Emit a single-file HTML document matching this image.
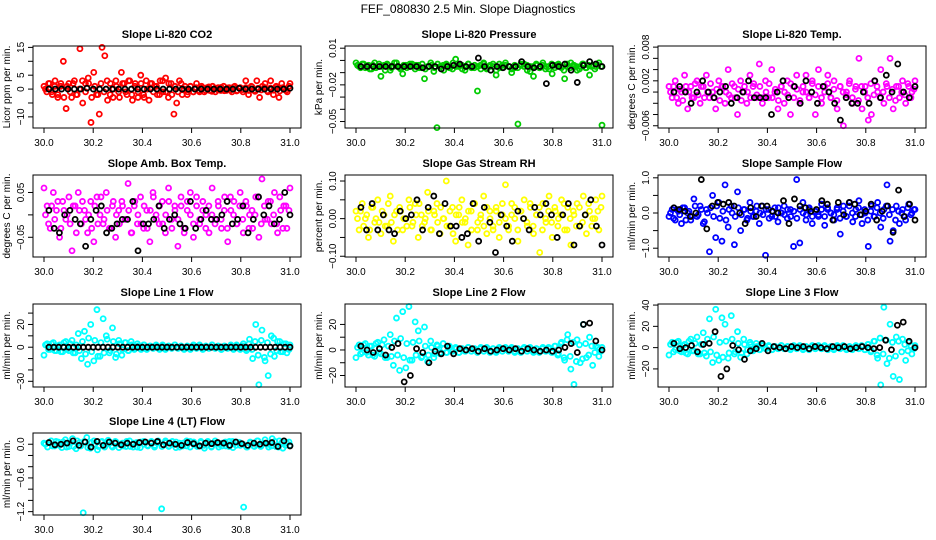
<!DOCTYPE html>
<html><head><meta charset="utf-8"><style>
html,body{margin:0;padding:0;background:#fff}
svg{display:block}
text{font-family:"Liberation Sans",Arial,sans-serif}
</style></head><body>
<svg id="chart" width="936" height="540" viewBox="0 0 936 540">
<text x="468" y="13" text-anchor="middle" font-size="12">FEF_080830  2.5 Min. Slope Diagnostics</text>
</svg>
<script>
const xTicks=[30.0,30.2,30.4,30.6,30.8,31.0];
const xTickLabels=["30.0","30.2","30.4","30.6","30.8","31.0"];

const co2Vals=[1,-1,2,-2,3,-3,1,10,-7,2,-3,3,-2,14.5,-5,2,4,-12,6,-2,-9,15,12,-4,2,-3,3,-1,6,2,-2,3,-4,2,-3,5,-2,3,-4,2,1,-2,3,-1,4,-3,2,-9,-5,3,-2,1,-1,1,-1,0.5,-0.5,1,-1,0.5,-0.5,1,-1,0.5,-0.5,1,-0.5,0.5,-1,1,-0.5,0.5,-1,3,-2,1,-0.5,3,-3,1,2,-1,3,-2,1,-3,2,0,-1,2];
const co2Vals2=[0,2,-1,1,-2,2,-3,1,-1,2,-2,0,3,-1,2,-3,1,-2,2,-1,3,-2,0,1,-3,2,-1,3,-2,1,-1,2,-3,0,2,-1,1,-2,3,-1,2,-2,1,-1,2,0,-2,1,-1,2,-1,0.5,-0.5,0.8,-0.8,0.3,-0.3,0.6,-0.6,0.4,-0.4,0.7,-0.7,0.2,-0.2,0.5,-0.5,0.8,-0.8,0.3,-0.3,0.6,-0.6,0.4,-0.4,0.7,-0.7,0.5,-0.5,1];
const co2Ref=[0,0,0,0,0,0,0.3,0,0,0,0,0,0,0,0,0,0,0,0,0,0,0,0,0,0,0,0,0,0,0,0.3,0,0,0,0,0,0,0,0.3];

const presVals=[-0.002,-0.005,-0.003,-0.006,-0.004,-0.007,-0.002,-0.005,-0.013,-0.004,-0.003,-0.008,-0.005,-0.002,-0.006,-0.011,-0.004,-0.005,-0.003,-0.007,-0.004,-0.006,-0.015,-0.005,-0.002,-0.009,-0.055,-0.005,-0.004,-0.003,-0.006,-0.007,0.001,-0.005,-0.004,-0.008,-0.003,-0.005,-0.006,-0.025,-0.004,-0.002,-0.007,-0.005,-0.003,-0.012,-0.006,-0.004,-0.002,-0.005,-0.01,-0.006,-0.052,-0.004,-0.003,-0.008,-0.005,-0.013,-0.004,-0.006,-0.002,-0.005,-0.007,-0.011,-0.004,-0.003,-0.006,-0.015,-0.005,-0.002,-0.004,-0.008,-0.005,-0.003,-0.006,-0.012,-0.004,-0.005,-0.002,-0.053];
const presVals2=[-0.004,-0.006,-0.003,-0.005,-0.007,-0.004,-0.006,-0.003,-0.005,-0.008,-0.004,-0.006,-0.002,-0.005,-0.007,-0.004,-0.006,-0.003,-0.005,-0.004,-0.006,-0.003,-0.007,-0.005,-0.004,-0.006,-0.003,-0.005,-0.008,-0.004,-0.006,-0.002,-0.005,-0.004,-0.007,-0.005,-0.003,-0.006,-0.004,-0.005,-0.007,-0.003,-0.006,-0.004,-0.005,-0.008,-0.003,-0.006,-0.004,-0.005,-0.007,-0.004,-0.006,-0.003,-0.005,-0.004,-0.009,-0.005,-0.003,-0.006,-0.004,-0.007,-0.005,-0.003,-0.006,-0.004,-0.005,-0.008,-0.003,-0.006,-0.004,-0.005,-0.007,-0.003,-0.006,-0.004,-0.005,-0.007,-0.004,-0.005];
const presRef=[-0.005,-0.005,-0.005,-0.005,-0.005,-0.005,-0.005,-0.005,-0.005,-0.005,-0.006,-0.005,-0.005,-0.007,-0.005,-0.004,-0.003,-0.005,-0.005,0.002,-0.005,-0.008,-0.005,-0.006,-0.005,-0.005,-0.001,-0.005,-0.006,-0.005,-0.019,-0.004,-0.005,-0.003,-0.008,-0.018,-0.004,-0.001,-0.003,-0.005];

const tempVals=[0.001,-0.001,0.002,-0.002,0,0.003,-0.003,0.001,-0.001,0.002,-0.002,0.001,0.003,-0.001,0,-0.003,0.002,0.001,-0.002,0.004,-0.001,0.001,-0.004,0.002,0,-0.002,0.003,0.001,-0.001,0.005,-0.002,0.002,-0.001,0.004,0,-0.003,0.001,-0.002,0.002,-0.004,0.001,0.003,-0.002,0,0.003,-0.001,0.002,-0.004,0.004,-0.002,0.001,0.003,-0.001,0.002,-0.003,0.001,-0.006,0,0.002,-0.002,0.001,0.006,-0.003,0.001,-0.005,-0.004,0.002,0,0.004,-0.002,0.001,0.006,-0.003,0.001,-0.001,0.002,-0.002,0.001,0,0.002];
const tempVals2=[0,0.001,-0.001,0.0005,-0.0015,0.001,0,-0.001,0.0015,-0.0005,0.001,-0.001,0,0.0015,-0.001,0.0005,-0.0015,0.001,0,-0.0005,0.0015,-0.001,0.0005,-0.0015,0.001,0,-0.001,0.0015,-0.0005,0.001,-0.001,0,0.0015,-0.001,0.0005,-0.0015,0.001,0,-0.0005,0.0015,-0.001,0.0005,-0.0015,0.001,0,-0.001,0.0015,-0.0005,0.001,-0.001,0,0.0015,-0.001,0.0005,-0.0015,0.001,0,-0.0005,0.0015,-0.001,0.0005,-0.0015,0.001,0,-0.001,0.0015,-0.0005,0.001,-0.001,0,0.0015,-0.001,0.0005,-0.0015,0.001,0,-0.0005,0.0015,-0.001,0.0005];
const tempRef=[0,0.001,0,-0.002,0,0.002,0,-0.001,0,0.001,-0.002,-0.001,0,0.002,-0.001,-0.001,-0.001,-0.004,0,0.002,-0.001,0.001,-0.002,0.002,0,-0.002,0.001,0,-0.002,-0.005,-0.001,-0.002,-0.002,0,-0.002,0.002,-0.001,0.003,0,0.005,0,-0.001,0.001];

const ambVals=[0.06,0.02,-0.03,0.05,0.01,-0.05,0.03,-0.01,0.04,-0.08,0.02,0.05,-0.02,0.01,-0.04,0.03,-0.06,0.04,0,-0.02,0.05,-0.03,0.02,-0.05,0.01,0.03,-0.01,0.07,-0.04,0.02,-0.02,0.04,-0.03,0.01,-0.06,0.05,0,-0.02,0.03,-0.04,0.06,-0.01,0.02,-0.07,0.04,-0.03,0.01,0.05,-0.05,0.02,-0.02,0.03,0,-0.04,0.06,-0.01,0.02,-0.03,0.04,-0.06,0.01,0.03,-0.02,0.05,-0.04,0.02,0,-0.03,0.04,-0.05,0.08,-0.01,0.03,-0.02,0.05,-0.04,0.01,0.02,-0.03,0.06];
const ambVals2=[0,-0.02,0.02,-0.01,0.03,-0.03,0.01,0,-0.02,0.02,-0.04,0.01,0.03,-0.01,0,-0.03,0.02,-0.02,0.04,-0.01,0.01,-0.03,0.03,0,-0.02,0.02,-0.01,0.01,-0.04,0.03,0,-0.02,0.02,-0.03,0.01,0.04,-0.01,0.02,-0.02,0,0.03,-0.03,0.01,-0.01,0.02,-0.04,0.03,0,-0.02,0.04,-0.01,0.01,-0.03,0.02,0,-0.02,0.03,-0.01,0.01,-0.03,0.04,0,-0.02,0.02,-0.01,0.03,-0.03,0.01,0,0.04,-0.02,0.02,-0.01,0.03,0,-0.02,0.04,-0.03,0.02,0.01];
const ambRef=[0.01,-0.03,-0.04,0,0.01,-0.01,-0.02,-0.07,-0.01,0.01,0.02,-0.04,-0.03,-0.02,-0.01,-0.01,0.03,-0.08,-0.02,-0.02,-0.01,0.02,-0.03,-0.01,0,-0.02,-0.03,0.03,-0.03,-0.01,0.01,-0.01,-0.01,0,0.03,-0.02,-0.01,0.02,-0.04,-0.01,0.04,0,0.02,-0.02,-0.01,0.05,0];

const rhVals=[0.02,-0.03,0.04,0,-0.05,0.03,-0.01,0.05,-0.04,0.01,-0.02,0.06,-0.06,0.02,0.03,-0.03,0,0.05,-0.02,0.04,-0.05,0.01,-0.01,0.07,-0.03,0.02,0.04,-0.04,0,0.1,-0.02,0.03,-0.06,0.01,0.05,-0.01,-0.07,0.02,0.04,-0.03,0,0.06,-0.04,0.02,-0.02,0.03,-0.05,0.01,0.09,-0.03,0.04,0,-0.06,0.02,0.05,-0.02,0.03,-0.04,0.01,-0.09,0.04,-0.01,0.06,-0.05,0.02,0,0.05,-0.03,0.03,-0.07,0.01,0.04,-0.02,0.06,-0.04,0.02,0,0.05,-0.03,0.06];
const rhVals2=[0,0.02,-0.02,0.01,-0.03,0.03,0,-0.01,0.02,-0.02,0.04,-0.01,0.01,-0.03,0.02,0,-0.02,0.03,-0.01,0.01,0.04,-0.02,0,0.02,-0.03,0.01,-0.01,0.03,0,-0.02,0.02,-0.04,0.01,0.03,-0.01,0,0.02,-0.03,0.04,-0.01,0.01,-0.02,0.03,0,-0.03,0.02,-0.01,0.04,0,-0.02,0.01,0.03,-0.03,0.02,0,-0.01,0.04,-0.02,0.01,0.03,-0.03,0,0.02,-0.01,0.03,-0.02,0.01,0.04,-0.03,0,0.02,-0.02,0.03,-0.01,0.01,0.04,-0.02,0,0.02,0.03];
const rhRef=[0.03,-0.03,0.04,-0.03,0.01,-0.03,-0.04,0.02,0,0.01,0.05,-0.03,0.03,0.06,-0.04,0.04,-0.02,-0.02,-0.05,-0.04,0.04,-0.06,0.03,-0.01,-0.09,0.01,-0.02,-0.06,0.02,0,-0.03,0.03,0.01,0.04,0.01,-0.05,0.01,0.04,-0.07,-0.02,0.01,0.05,-0.02,-0.07];

const flowVals=[-0.1,0.1,-0.2,0.05,-0.3,0.15,0,-0.2,0.4,-0.1,0.2,-0.3,0.1,-1.1,0.5,-0.7,0.3,-0.8,0.8,-0.4,0.2,-0.9,0.6,-0.5,0.1,-0.2,0.3,-0.1,0.05,-0.3,0.2,-1.2,0.1,-0.1,0.15,-0.25,0,0.2,-0.15,0.1,-0.95,0.95,-0.85,0.3,-0.2,0.1,-0.3,0.05,-0.1,0.25,-0.35,0.1,0,-0.2,0.15,-0.6,0.2,-0.1,0.3,-0.25,0.1,0.35,-0.3,0,-0.95,0.2,-0.1,0.3,-0.4,0.1,0.8,-0.8,-0.5,0.2,-0.3,0.1,-0.2,0.25,0,0.1];
const flowVals2=[0,-0.15,0.1,-0.05,0.15,-0.2,0.05,-0.1,0.2,-0.05,0.1,-0.25,0,0.15,-0.1,0.2,-0.15,0.05,-0.2,0.1,0,-0.1,0.15,-0.05,0.1,-0.15,0.05,-0.1,0.2,0,-0.05,0.1,-0.15,0.05,-0.1,0.15,0,-0.05,0.1,-0.1,0.05,-0.15,0.1,0,-0.05,0.15,-0.1,0.05,-0.05,0.1,-0.1,0.15,0,-0.05,0.1,-0.15,0.05,-0.1,0.2,0,-0.1,0.15,-0.05,0.1,-0.2,0.05,-0.1,0.15,0,-0.15,0.2,-0.05,0.1,-0.2,0.05,0,-0.1,0.15,-0.05,0.1];
const flowRef=[0.15,0.1,0.05,-0.1,0,0.95,-0.45,0.2,0.3,0.25,0.3,0.2,0,-0.3,0.15,-0.1,0.2,0.2,0.05,0,0.35,-0.3,0.4,0.2,0.15,0.05,0.1,0.35,0.25,-0.2,0.3,-0.05,0.3,0.25,-0.05,0.05,0.25,-0.2,0.05,0.2,-0.55,0.65,-0.1,0.25,-0.2];

const l1Vals=[-7,3,-2,4,-3,2,-4,5,-3,6,-5,12,-10,14,-15,20,-12,33,-8,25,10,-5,17,-9,6,-7,4,-3,5,-2,3,-1,2,-2,1,-1,2,-1,1,-2,1,-1,2,-1,1,-2,1,-1,2,-1,1,-2,1,-1,2,-1,1,-2,1,-1,2,-1,1,-2,3,-3,7,-10,20,-33,15,-12,-25,10,-8,5,-4,3,-5,2];
const l1Vals2=[2,-2,3,-3,1,-4,4,-2,3,-5,2,-3,5,-6,8,-4,6,-8,4,-5,7,-3,5,-6,3,-2,4,-3,2,-1,1,-2,2,-1,1,-1,1,-2,2,-1,1,-1,2,-1,1,-1,1,-2,1,-1,2,-1,1,-1,2,-1,1,-2,1,-1,1,-2,2,-1,1,-2,3,-2,5,-7,6,-9,4,-6,8,-3,5,-4,3,-2];
const l1Ref=[0,0,0,0,0,0,0,0,0,0,0,0,0,0,0,0,0,0,0,0,0,0,0,0,0,0,0,0,0,0,0,0,0,0,0,0,0,0,0,0,0,0,0,0,0,0,0,0,0,0];

const l2Vals=[-6,4,-2,5,-4,3,-5,6,-3,8,-6,12,-12,25,-16,30,-14,34,-8,22,15,-6,18,-9,7,-6,4,-3,5,-2,3,-1,2,-2,1,-1,2,-1,1,-2,1,-1,2,-1,1,-2,1,-1,2,-1,1,-2,1,-1,2,-1,1,-2,1,-1,2,-1,1,-2,3,-3,6,-8,12,-15,-27,8,-10,20,-6,10,-12,3,-5,2];
const l2Vals2=[2,-3,4,-2,3,-4,5,-2,4,-6,3,-5,7,-4,9,-6,5,-8,6,-4,7,-5,3,-4,2,-3,3,-2,1,-2,2,-1,1,-2,1,-1,2,-1,1,-1,2,-1,1,-2,1,-1,2,-1,1,-1,2,-1,1,-2,1,-1,2,-1,1,-2,1,-1,2,-2,3,-4,5,-6,8,-5,6,-9,4,-7,5,-4,3,-2,2,-1];
const l2Ref=[3,0,-2,1,-4,2,5,-25,-20,1,-2,-10,-1,-3,3,-3,1,0,1,-1,1,-1,0,1,0,1,-1,1,0,-1,0,-1,0,2,5,-2,20,21,7,0];

const l3Vals=[-7,5,-2,6,-4,3,-6,8,-3,10,-6,14,-8,27,-14,36,-12,28,22,-10,30,-6,15,-9,8,-6,5,-3,4,-2,3,-1,2,-2,1,-1,2,-1,1,-2,1,-1,2,-1,1,-2,1,-1,2,-1,1,-2,1,-1,2,-1,1,-2,1,-1,2,-1,1,-2,3,-3,6,-10,-35,38,-15,22,-27,10,-30,8,-12,5,-6,2];
const l3Vals2=[3,-4,5,-3,2,-5,6,-3,4,-6,3,-5,8,-4,10,-7,5,-9,6,-5,8,-4,4,-5,3,-2,3,-2,1,-2,2,-1,1,-2,1,-1,2,-1,1,-1,2,-1,1,-2,1,-1,2,-1,1,-1,2,-1,1,-2,1,-1,2,-1,1,-2,1,-1,2,-2,3,-4,6,-7,9,-6,7,-10,5,-8,6,-4,3,-3,2,-1];
const l3Ref=[4,-1,0,2,-4,3,4,15,-27,-20,2,-2,-11,-3,-1,4,-3,1,0,-1,1,0,1,-1,1,0,-1,1,0,1,-1,0,1,0,-1,0,7,-2,21,24,6,0];

const l4Vals=[0.02,-0.05,0.06,-0.03,0.04,-0.06,0.08,-0.04,0.1,-0.08,0.03,-1.22,0.12,-0.07,0.06,-0.1,0.04,-0.05,0.07,-0.03,0.05,-0.06,0.02,-0.04,0.06,-0.05,0.03,-0.06,0.05,-0.02,0.04,-0.05,0.06,-1.15,0.03,-0.04,0.05,-0.06,0.02,-0.03,0.06,-0.05,0.04,-0.02,0.05,-0.07,0.03,-0.04,0.06,-0.05,0.02,-0.03,0.05,-0.06,0.04,-0.02,-1.12,-0.05,0.03,-0.04,0.06,-0.02,0.08,-0.05,0.1,-0.04,0.06,-0.07,0.03,-0.02];
const l4Vals2=[0,0.03,-0.03,0.05,-0.02,0.04,-0.05,0.02,-0.04,0.06,-0.03,0.05,-0.06,0.03,0,-0.04,0.05,-0.02,0.03,-0.05,0.04,0,-0.03,0.05,-0.04,0.02,-0.05,0.04,0,-0.03,0.05,-0.02,0.03,-0.04,0.06,-0.03,0,0.04,-0.05,0.02,-0.03,0.05,0,-0.04,0.03,-0.02,0.05,-0.05,0.02,0,-0.03,0.04,-0.04,0.05,-0.02,0.03,0,-0.05,0.04,-0.03,0.06,-0.04,0.02,0,-0.03,0.05,-0.05,0.03,-0.02,0.04];
const l4Ref=[0.03,-0.01,0,0.02,0.06,-0.02,0.04,-0.05,0.05,-0.02,0.04,0.02,-0.01,0.02,0,0.03,0.04,0.02,0.05,-0.01,0.02,0,-0.02,0.03,0.01,-0.03,0.02,0.01,0.03,0.02,-0.02,0.04,0.01,-0.02,0.02,0,0.02,0.03,-0.04,0.06,-0.03];

const cols=[33,345,658], W=268;
const rows=[[46,128],[175,257],[304,387],[433,515]];
const panels=[
 {t:"Slope Li-820 CO2",yl:"Licor ppm per min.",c:0,r:0,lo:-14,hi:15.5,ticks:[15,10,5,0,-5,-10],labs:["15","","5","0","","\u221210"],col:"#ff0000",v:co2Vals,v2:co2Vals2,b:co2Ref,n:"co2"},
 {t:"Slope Li-820 Pressure",yl:"kPa per min.",c:1,r:0,lo:-0.0553,hi:0.0118,ticks:[0.01,0,-0.01,-0.02,-0.03,-0.04,-0.05],labs:["0.01","","","\u22120.02","","","\u22120.05"],col:"#00cc00",v:presVals,v2:presVals2,b:presRef,n:"pressure"},
 {t:"Slope Li-820 Temp.",yl:"degrees C per min.",c:2,r:0,lo:-0.0064,hi:0.0082,ticks:[0.008,0.006,0.004,0.002,0,-0.002,-0.004,-0.006],labs:["0.008","","","0.002","","","","\u22120.006"],col:"#ff00ff",v:tempVals,v2:tempVals2,b:tempRef,n:"licor-temp"},
 {t:"Slope Amb. Box Temp.",yl:"degrees C per min.",c:0,r:1,lo:-0.094,hi:0.089,ticks:[0.05,0,-0.05],labs:["0.05","","\u22120.05"],col:"#ff00ff",v:ambVals,v2:ambVals2,b:ambRef,n:"amb-temp"},
 {t:"Slope Gas Stream RH",yl:"percent per min.",c:1,r:1,lo:-0.102,hi:0.116,ticks:[0.1,0.05,0,-0.05,-0.1],labs:["0.10","","0.00","","\u22120.10"],col:"#ffff00",v:rhVals,v2:rhVals2,b:rhRef,n:"rh"},
 {t:"Slope Sample Flow",yl:"ml/min per min.",c:2,r:1,lo:-1.25,hi:1.08,ticks:[1,0.5,0,-0.5,-1],labs:["1.0","","0.0","","\u22121.0"],col:"#0000ff",v:flowVals,v2:flowVals2,b:flowRef,n:"sample-flow"},
 {t:"Slope Line 1 Flow",yl:"ml/min per min.",c:0,r:2,lo:-35,hi:38,ticks:[30,20,10,0,-10,-20,-30],labs:["","20","","0","","","\u221230"],col:"#00ffff",v:l1Vals,v2:l1Vals2,b:l1Ref,n:"line1"},
 {t:"Slope Line 2 Flow",yl:"ml/min per min.",c:1,r:2,lo:-29,hi:36,ticks:[20,10,0,-10,-20],labs:["20","","0","","\u221220"],col:"#00ffff",v:l2Vals,v2:l2Vals2,b:l2Ref,n:"line2"},
 {t:"Slope Line 3 Flow",yl:"ml/min per min.",c:2,r:2,lo:-37,hi:41,ticks:[40,20,0,-20],labs:["40","20","0","\u221220"],col:"#00ffff",v:l3Vals,v2:l3Vals2,b:l3Ref,n:"line3"},
 {t:"Slope Line 4 (LT) Flow",yl:"ml/min per min.",c:0,r:3,lo:-1.26,hi:0.2,ticks:[0,-0.2,-0.4,-0.6,-0.8,-1,-1.2],labs:["0.0","","","\u22120.6","","","\u22121.2"],col:"#00ffff",v:l4Vals,v2:l4Vals2,b:l4Ref,n:"line4"}
];
const NS="http://www.w3.org/2000/svg", svg=document.getElementById("chart");
function mk(tag,attrs,parent){const e=document.createElementNS(NS,tag);for(const k in attrs)e.setAttribute(k,attrs[k]);(parent||svg).appendChild(e);return e;}
panels.forEach(p=>{
 const L=cols[p.c],R=L+W,T=rows[p.r][0],B=rows[p.r][1];
 const g=mk("g",{});
 
 
 const xs=v=>L+11+(v-30)*(W-22);
 const ys=v=>B-(v-p.lo)/(p.hi-p.lo)*(B-T);
 const tt=mk("text",{x:(L+R)/2,y:T-8,"text-anchor":"middle","font-size":"11","font-weight":"bold"},g);tt.textContent=p.t;
 
 
 const pts=mk("g",{fill:"none","stroke-width":"1.8"},g);
 p.v.forEach((v,i)=>{const x=30+i/(p.v.length-1);const c=mk("circle",{cx:xs(x),cy:ys(v),r:2.5,stroke:p.col},pts);
  
  });
 p.v2.forEach((v,i)=>{const x=30.006+0.99*i/(p.v2.length-1);const c=mk("circle",{cx:xs(x),cy:ys(v),r:2.5,stroke:p.col},pts);
  
  });
 p.b.forEach((v,i)=>{const x=30.02+0.98*i/(p.b.length-1);const c=mk("circle",{cx:xs(x),cy:ys(v),r:2.5,stroke:"#000"},pts);
  
  });
 const box=mk("rect",{x:L,y:T,width:W,height:B-T,fill:"none",stroke:"#000","stroke-width":"1"},g);
 
 
 mk("line",{x1:xs(30),x2:xs(31),y1:B,y2:B,stroke:"#000"},g);
 xTicks.forEach((v,i)=>{mk("line",{x1:xs(v),x2:xs(v),y1:B,y2:B+5,stroke:"#000"},g);
  const t=mk("text",{x:xs(v),y:B+18,"text-anchor":"middle","font-size":"10"},g);t.textContent=xTickLabels[i];
  
  });
 p.ticks.forEach((v,i)=>{const y=ys(v);mk("line",{x1:L-5,x2:L,y1:y,y2:y,stroke:"#000"},g);
  if(p.labs[i]){const t=mk("text",{x:L-9,y:y,"text-anchor":"middle","font-size":"10",transform:`rotate(-90 ${L-9} ${y})`},g);t.textContent=p.labs[i];
  
  }});
 const yt=mk("text",{x:L-23,y:(T+B)/2,"text-anchor":"middle","font-size":"10",transform:`rotate(-90 ${L-23} ${(T+B)/2})`},g);yt.textContent=p.yl;
 
 
});
</script>
</body></html>
